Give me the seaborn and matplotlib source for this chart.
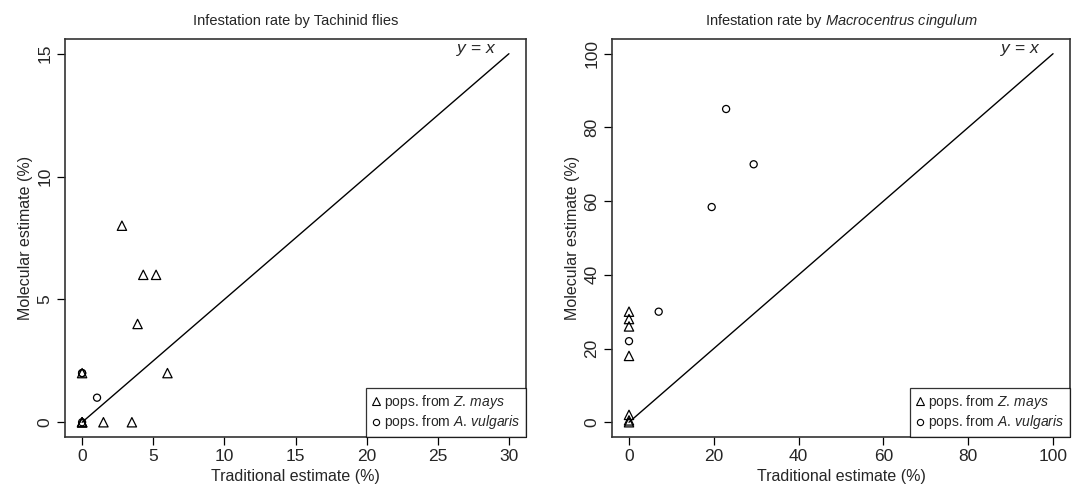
import matplotlib
matplotlib.use("Agg")
import matplotlib.pyplot as plt
import seaborn as sns
import pandas as pd

# Tachinid flies panel
tach_zmays_x = [0, 0, 0, 0, 1.5, 3.5, 6.0, 3.9, 4.3, 5.2, 2.8]
tach_zmays_y = [0, 0, 0, 2, 0, 0, 2, 4, 6, 6, 8]
tach_avulg_x = [0, 0, 1.05, 0]
tach_avulg_y = [2, 2, 1, 0]

# Macrocentrus cingulum panel
macro_zmays_x = [0, 0, 0, 0, 0, 0, 0]
macro_zmays_y = [30, 28, 26, 18, 2, 0.5, 0]
macro_avulg_x = [0, 7.0, 19.5, 22.9, 29.4]
macro_avulg_y = [22, 30, 58.4, 85, 70]

xticks_left = [0, 5, 10, 15, 20, 25, 30]
yticks_left = [0, 5, 10, 15]
ticks_right = [0, 20, 40, 60, 80, 100]

sns.set_style("white")
plt.rcParams['font.family'] = ['Liberation Sans', 'DejaVu Sans']
plt.rcParams['mathtext.fontset'] = 'custom'
plt.rcParams['mathtext.it'] = 'Liberation Sans:italic'
plt.rcParams['mathtext.rm'] = 'Liberation Sans'


def make_df(zx, zy, ax_, ay):
    d1 = pd.DataFrame({"trad": zx, "mol": zy, "host": "Z. mays"})
    d2 = pd.DataFrame({"trad": ax_, "mol": ay, "host": "A. vulgaris"})
    return pd.concat([d1, d2], ignore_index=True)


def draw_panel(ax, df, xmax, ymax, xticks, yticks, title):
    # R-style 4% padding on both axes
    ax.plot([0, xmax], [0, ymax], color="black", lw=1.0, zorder=1)
    sns.scatterplot(data=df[df.host == "Z. mays"], x="trad", y="mol", ax=ax,
                    marker="^", s=45, facecolor="none", edgecolor="black",
                    linewidth=0.9, zorder=3)
    sns.scatterplot(data=df[df.host == "A. vulgaris"], x="trad", y="mol", ax=ax,
                    marker="o", s=26, facecolor="none", edgecolor="black",
                    linewidth=0.9, zorder=3)
    ax.set_xlim(-0.04 * xmax, 1.04 * xmax)
    ax.set_ylim(-0.04 * ymax, 1.04 * ymax)
    ax.set_xticks(xticks)
    ax.set_yticks(yticks)
    ax.tick_params(axis="both", direction="out", length=6, width=0.9,
                   labelsize=12.5, color="black", bottom=True, left=True, pad=3)
    for lab in ax.get_yticklabels():
        lab.set_rotation(90)
        lab.set_va("center")
    for sp in ax.spines.values():
        sp.set_visible(True)
        sp.set_color("#333333")
        sp.set_linewidth(1.2)
    ax.set_xlabel("Traditional estimate (%)", fontsize=11.5, labelpad=3)
    ax.set_ylabel("Molecular estimate (%)", fontsize=11.5, labelpad=3)
    ax.set_title(title, fontsize=10.5, pad=10)
    ax.text(0.937, 0.972, "$y$ = $x$", transform=ax.transAxes,
            ha="right", va="center", fontsize=12.5)
    # legend in bottom-right
    h1 = plt.Line2D([], [], marker="^", ls="none", mfc="none", mec="black",
                    ms=5.5, mew=0.8)
    h2 = plt.Line2D([], [], marker="o", ls="none", mfc="none", mec="black",
                    ms=4.5, mew=0.8)
    leg = ax.legend([h1, h2], ["pops. from $Z.\\,mays$", "pops. from $A.\\,vulgaris$"],
                    loc="lower right", fontsize=10, frameon=True, fancybox=False,
                    borderaxespad=0, handlelength=0.6, handletextpad=0.3,
                    labelspacing=0.15, borderpad=0.4)
    leg.get_frame().set_edgecolor("black")
    leg.get_frame().set_linewidth(0.9)


fig = plt.figure(figsize=(10.73, 4.91), dpi=100)
ax1 = fig.add_axes([0.0606, 0.110, 0.4296, 0.8106])
ax2 = fig.add_axes([0.5704, 0.110, 0.4268, 0.8106])

df_tach = make_df(tach_zmays_x, tach_zmays_y, tach_avulg_x, tach_avulg_y)
df_macro = make_df(macro_zmays_x, macro_zmays_y, macro_avulg_x, macro_avulg_y)

draw_panel(ax1, df_tach, 30, 15, xticks_left, yticks_left,
           "Infestation rate by Tachinid flies")
draw_panel(ax2, df_macro, 100, 100, ticks_right, ticks_right,
           "Infestation rate by $Macrocentrus\\ cingulum$")

fig.savefig("out.png", dpi=100)
